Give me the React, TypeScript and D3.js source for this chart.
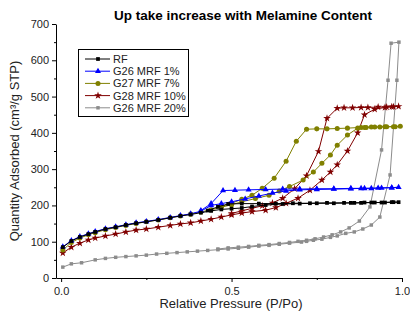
import React, { useRef, useEffect } from "react";
import * as d3 from "d3";

// isotherm points [P/Po, quantity], adsorption branch then desorption branch
const rfData = [
    [0.005, 85], [0.03, 102], [0.055, 113], [0.08, 121], [0.1, 127], [0.13, 135], [0.16, 140], [0.19, 146],
    [0.22, 151], [0.25, 155], [0.285, 160], [0.32, 166], [0.35, 171], [0.38, 175], [0.41, 180], [0.44, 185],
    [0.47, 189], [0.5, 191], [0.53, 193], [0.56, 197], [0.6, 201], [0.65, 204], [0.7, 205], [0.75, 206],
    [0.8, 206], [0.85, 207], [0.88, 207], [0.91, 208], [0.94, 208], [0.97, 209], [0.99, 209],
    [0.975, 209], [0.95, 208], [0.92, 208], [0.89, 208], [0.86, 207], [0.83, 207], [0.78, 207], [0.73, 206],
    [0.68, 206], [0.63, 205], [0.58, 205], [0.53, 205], [0.49, 204], [0.46, 196], [0.43, 186]
];

const g26Data = [
    [0.005, 86], [0.03, 103], [0.055, 114], [0.08, 122], [0.1, 128], [0.13, 136], [0.16, 141], [0.19, 147],
    [0.22, 152], [0.25, 156], [0.285, 161], [0.32, 167], [0.35, 172], [0.38, 177], [0.41, 184], [0.44, 200],
    [0.47, 205], [0.5, 210], [0.54, 218], [0.58, 226], [0.62, 234], [0.66, 240], [0.7, 243], [0.75, 244],
    [0.8, 245], [0.85, 246], [0.88, 247], [0.91, 247], [0.94, 248], [0.97, 249], [0.99, 250],
    [0.97, 249], [0.93, 248], [0.89, 247], [0.85, 247], [0.8, 246], [0.75, 246], [0.7, 245], [0.65, 245],
    [0.6, 244], [0.55, 243], [0.51, 242], [0.475, 241], [0.44, 205], [0.41, 186]
];

const g27Data = [
    [0.005, 77], [0.03, 98], [0.055, 110], [0.08, 119], [0.1, 125], [0.13, 133], [0.16, 139], [0.19, 145],
    [0.22, 150], [0.25, 155], [0.285, 160], [0.32, 166], [0.35, 171], [0.38, 176], [0.41, 182], [0.44, 188],
    [0.47, 195], [0.5, 202], [0.53, 210], [0.57, 219], [0.61, 228], [0.64, 240], [0.67, 252], [0.71, 270],
    [0.74, 292], [0.765, 316], [0.79, 339], [0.81, 366], [0.84, 394], [0.87, 413], [0.89, 415], [0.92, 416],
    [0.95, 417], [0.98, 417], [0.995, 418],
    [0.975, 417], [0.955, 417], [0.935, 416], [0.91, 416], [0.895, 415], [0.88, 415], [0.84, 413], [0.81, 412],
    [0.78, 411], [0.75, 411], [0.72, 410], [0.69, 377], [0.66, 322], [0.625, 275], [0.59, 247], [0.56, 228],
    [0.53, 217], [0.5, 206], [0.47, 197]
];

const g28Data = [
    [0.005, 69], [0.03, 85], [0.055, 96], [0.08, 105], [0.1, 110], [0.13, 116], [0.16, 121], [0.19, 127],
    [0.22, 132], [0.25, 135], [0.285, 140], [0.32, 145], [0.35, 149], [0.38, 152], [0.41, 157], [0.44, 162],
    [0.47, 168], [0.5, 174], [0.53, 179], [0.56, 183], [0.6, 187], [0.63, 194], [0.66, 206], [0.695, 220],
    [0.73, 242], [0.765, 270], [0.79, 292], [0.81, 312], [0.84, 350], [0.87, 400], [0.89, 450], [0.92, 465],
    [0.95, 470], [0.97, 472], [0.99, 473],
    [0.975, 472], [0.955, 471], [0.93, 471], [0.9, 470], [0.88, 470], [0.855, 469], [0.83, 469], [0.81, 468],
    [0.78, 440], [0.755, 349], [0.72, 282], [0.685, 246], [0.65, 220], [0.62, 207], [0.59, 199], [0.56, 192],
    [0.53, 185], [0.5, 178]
];

const g26bData = [
    [0.005, 30], [0.03, 39], [0.06, 42], [0.1, 50], [0.13, 54], [0.16, 57], [0.19, 59], [0.22, 61],
    [0.25, 63], [0.28, 66], [0.31, 68], [0.34, 70], [0.37, 72], [0.4, 74], [0.43, 76], [0.46, 78],
    [0.49, 80], [0.52, 82], [0.55, 85], [0.58, 88], [0.61, 90], [0.64, 93], [0.67, 96], [0.705, 99],
    [0.72, 101], [0.74, 104], [0.765, 107], [0.79, 112], [0.81, 116], [0.835, 123], [0.86, 127], [0.885, 135],
    [0.91, 146], [0.935, 168], [0.965, 284], [0.985, 545], [0.991, 650],
    [0.968, 647], [0.959, 545], [0.94, 353], [0.906, 196], [0.875, 157], [0.845, 138], [0.82, 127],
    [0.795, 119], [0.77, 113], [0.745, 108], [0.72, 104], [0.695, 101], [0.67, 98], [0.64, 95], [0.61, 92],
    [0.58, 90], [0.55, 87], [0.52, 85], [0.49, 83], [0.46, 80]
];

const seriesNames = ["RF", "G26 MRF 1%", "G27 MRF 7%", "G28 MRF 10%", "G26 MRF 20%"];
const seriesData = [rfData, g26Data, g27Data, g28Data, g26bData];
const seriesColors = ["#000000", "#0000ff", "#808000", "#800000", "#8c8c8c"];
const seriesSymbols = [d3.symbolSquare, d3.symbolTriangle, d3.symbolCircle, d3.symbolStar, d3.symbolSquare];
const symbolSizes = [14, 16, 20, 18, 12];

const yTicks = [0, 100, 200, 300, 400, 500, 600, 700];
const xTicks = [0, 0.5, 1.0];

const App = () => {
    const ref = useRef(null);

    useEffect(() => {
        const svgWidth = 410;
        const svgHeight = 320;
        const fontColor = "#000";

        const svg = d3.select(ref.current)
            .attr("width", svgWidth)
            .attr("height", svgHeight);

        svg.selectAll("*").remove();

        // scales
        const xScale = d3.scaleLinear().domain([-0.015, 1.0]).range([56, 402]);
        const yScale = d3.scaleLinear().domain([0, 700]).range([278, 24]);

        // title
        svg.append("text")
            .attr("x", 243)
            .attr("y", 20)
            .attr("text-anchor", "middle")
            .style("font-family", "Liberation Sans, Arial, sans-serif")
            .style("font-size", "13.5px")
            .style("font-weight", "bold")
            .style("fill", fontColor)
            .text("Up take increase with Melamine Content");

        // X axis
        const xAxis = svg.append("g")
            .attr("transform", `translate(0,${yScale(0)})`)
            .style("font-family", "Liberation Sans, Arial, sans-serif")
            .style("font-size", "11px")
            .call(d3.axisBottom(xScale).tickValues(xTicks).tickSize(4).tickSizeOuter(0).tickFormat(d3.format(".1f")));
        xAxis.select(".domain").attr("stroke", fontColor);
        xAxis.selectAll("text").attr("dy", "0.9em").style("fill", "#222");

        svg.append("g")
            .attr("transform", `translate(0,${yScale(0)})`)
            .call(d3.axisBottom(xScale).tickValues([0.25, 0.75]).tickSize(2).tickFormat(() => ""))
            .select(".domain").remove();

        // Y axis
        const yAxis = svg.append("g")
            .attr("transform", `translate(${xScale(-0.015)},0)`)
            .style("font-family", "Liberation Sans, Arial, sans-serif")
            .style("font-size", "11px")
            .call(d3.axisLeft(yScale).tickValues(yTicks).tickSize(4).tickSizeOuter(0));
        yAxis.selectAll("text").style("fill", "#222");

        svg.append("g")
            .attr("transform", `translate(${xScale(-0.015)},0)`)
            .call(d3.axisLeft(yScale).tickValues(d3.range(50, 700, 100)).tickSize(2).tickFormat(() => ""))
            .select(".domain").remove();

        // axis labels
        svg.append("text")
            .attr("x", 231)
            .attr("y", 308)
            .attr("text-anchor", "middle")
            .style("font-family", "Liberation Sans, Arial, sans-serif")
            .style("font-size", "13px")
            .style("fill", "#222")
            .text("Relative Pressure (P/Po)");

        svg.append("text")
            .attr("transform", `translate(19,${yScale(350)}) rotate(-90)`)
            .attr("text-anchor", "middle")
            .style("font-family", "Liberation Sans, Arial, sans-serif")
            .style("font-size", "13px")
            .style("fill", "#222")
            .text("Quantity Adsorbed (cm³/g STP)");

        // lines and markers, drawn in reverse so RF ends up on top
        const line = d3.line()
            .x(d => xScale(d[0]))
            .y(d => yScale(d[1]));

        for (let i = seriesData.length - 1; i >= 0; i--) {
            const g = svg.append("g");
            g.append("path")
                .datum(seriesData[i])
                .attr("fill", "none")
                .attr("stroke", seriesColors[i])
                .attr("stroke-width", 1)
                .attr("d", line);

            g.selectAll("path.pt")
                .data(seriesData[i])
                .join("path")
                .attr("class", "pt")
                .attr("transform", d => `translate(${xScale(d[0])},${yScale(d[1])})`)
                .attr("d", d3.symbol().type(seriesSymbols[i]).size(symbolSizes[i]))
                .attr("fill", seriesColors[i]);
        }

        // legend
        const legend = svg.append("g");
        legend.append("rect")
            .attr("x", 78.5)
            .attr("y", 49.5)
            .attr("width", 110)
            .attr("height", 67)
            .attr("fill", "white")
            .attr("stroke", "#000")
            .attr("stroke-width", 1);

        seriesNames.forEach((name, i) => {
            const ly = 59 + i * 12.2;
            legend.append("line")
                .attr("x1", 85)
                .attr("x2", 110)
                .attr("y1", ly)
                .attr("y2", ly)
                .attr("stroke", seriesColors[i])
                .attr("stroke-width", 1);
            legend.append("path")
                .attr("transform", `translate(98,${ly})`)
                .attr("d", d3.symbol().type(seriesSymbols[i]).size(symbolSizes[i]))
                .attr("fill", seriesColors[i]);
            legend.append("text")
                .attr("x", 113)
                .attr("y", ly)
                .attr("dy", "0.36em")
                .style("font-family", "Liberation Sans, Arial, sans-serif")
                .style("font-size", "11px")
                .style("fill", "#222")
                .text(name);
        });
    }, []);

    return (
        <div style={{ position: "absolute", left: 0, top: 0 }}>
            <svg ref={ref}></svg>
        </div>
    );
};

export default App;
